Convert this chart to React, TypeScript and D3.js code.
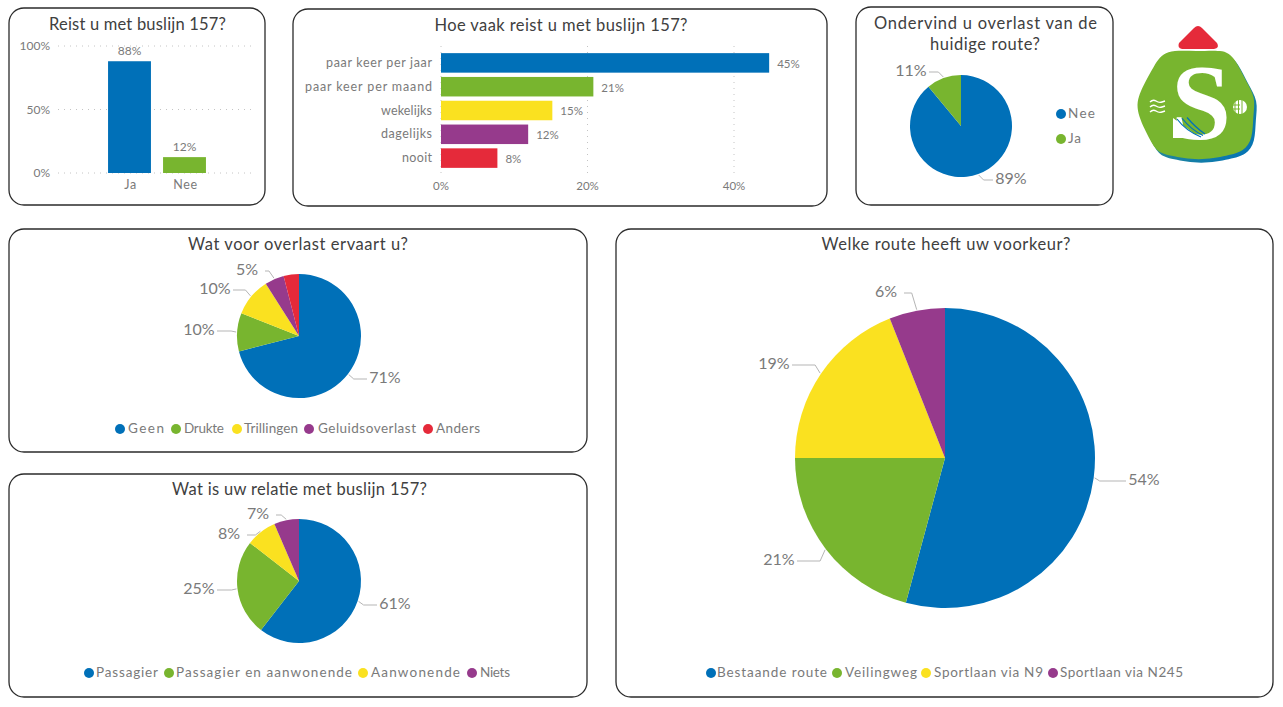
import React from "react";
import * as d3 from "d3";

const BLUE = "#0070B8", GREEN = "#78B52F", YELLOW = "#FAE120", PURPLE = "#963A8C", RED = "#E52A3A";
const FONT = "Lato, 'Open Sans', sans-serif";
const TITLE = "#404040", GREY = "#7a7a7a";

// --- data ---
const travelCats = ["Ja", "Nee"];
const travelVals = [88, 12.5];
const travelColors = [BLUE, GREEN];
const travelTicks = [0, 50, 100];

const freqCats = ["paar keer per jaar", "paar keer per maand", "wekelijks", "dagelijks", "nooit"];
const freqVals = [44.8, 20.8, 15.2, 11.9, 7.7];
const freqColors = [BLUE, GREEN, YELLOW, PURPLE, RED];
const freqTicks = [0, 20, 40];

const nuisanceYesNoCats = ["Nee", "Ja"];
const nuisanceYesNoVals = [89, 11];

const nuisanceCats = ["Geen", "Drukte", "Trillingen", "Geluidsoverlast", "Anders"];
const nuisanceVals = [71, 10, 10, 5, 4];

const relationCats = ["Passagier", "Passagier en aanwonende", "Aanwonende", "Niets"];
const relationVals = [60.5, 25, 8, 6.5];
const relationLabels = [61, 25, 8, 7];

const routeCats = ["Bestaande route", "Veilingweg", "Sportlaan via N9", "Sportlaan via N245"];
const routeVals = [54.2, 20.8, 19, 6];

const pieColors = [BLUE, GREEN, YELLOW, PURPLE, RED];

// --- layout ---
const freqLabelWidths = [106, 127, 51, 51, 30];
type Lab = { x: number; y: number } | null;
type LegendItem = { dot: number; text: number; w: number };

function Panel({ x0, y0, x1, y1 }: { x0: number; y0: number; x1: number; y1: number }) {
  return <rect x={x0} y={y0} width={x1 - x0} height={y1 - y0} rx={15} fill="#fff" stroke="#2b2b2b" strokeWidth={1.3} />;
}

function Title({ x, y, w, children, size = 16.5 }: any) {
  return (
    <text x={x} y={y} textAnchor="middle" fontSize={size} fill={TITLE} textLength={w} lengthAdjust="spacing" dominantBaseline="middle">
      {children}
    </text>
  );
}

function Pie({ cx, cy, r, vals, labels, labelPos, fontSize = 16 }: {
  cx: number; cy: number; r: number; vals: number[]; labels?: number[]; labelPos: Lab[]; fontSize?: number;
}) {
  const arcs = d3.pie<number>().sort(null)(vals);
  const arc = d3.arc<d3.PieArcDatum<number>>().innerRadius(0).outerRadius(r);
  const edge = d3.arc<d3.PieArcDatum<number>>().innerRadius(r + 1).outerRadius(r + 1);
  const leader = d3.line();
  return (
    <g>
      <g transform={`translate(${cx},${cy})`}>
        {arcs.map((a, i) => <path key={i} d={arc(a) as string} fill={pieColors[i]} />)}
      </g>
      {arcs.map((a, i) => {
        const p = labelPos[i];
        if (!p) return null;
        const [ex, ey] = edge.centroid(a);
        const X = cx + ex, Y = cy + ey;
        const side = p.x < cx ? 1 : -1;
        const end = p.x + side * 18;
        const elbow = X - side * 5;
        return (
          <g key={i}>
            <path d={leader([[X, Y], [elbow, p.y], [end, p.y]]) as string} fill="none" stroke="#b5b5b5" strokeWidth={1} />
            <text x={p.x} y={p.y} textAnchor="middle" dominantBaseline="middle" fontSize={fontSize} fill={GREY}>
              {Math.round(labels ? labels[i] : a.value)}%
            </text>
          </g>
        );
      })}
    </g>
  );
}

function Legend({ y, cats, items, size = 13.5 }: { y: number; cats: string[]; items: LegendItem[]; size?: number }) {
  return (
    <g>
      {cats.map((c, i) => (
        <g key={c}>
          <circle cx={items[i].dot} cy={y} r={5} fill={pieColors[i]} />
          <text x={items[i].text} y={y + 1} dominantBaseline="middle" fontSize={size} fill={GREY} textLength={items[i].w} lengthAdjust="spacing">{c}</text>
        </g>
      ))}
    </g>
  );
}

function TravelBars() {
  const y = d3.scaleLinear().domain([0, 100]).range([173, 46]);
  const x = d3.scaleBand<string>().domain(travelCats).range([102, 212]).paddingInner(0.22).paddingOuter(0.11);
  return (
    <g>
      {travelTicks.map(t => (
        <g key={t}>
          <line x1={58} x2={256} y1={y(t)} y2={y(t)} stroke="#c4c4c4" strokeWidth={1} strokeDasharray="1 5" />
          <text x={50} y={y(t) + 1} textAnchor="end" dominantBaseline="middle" fontSize={12} fill={GREY}>{t}%</text>
        </g>
      ))}
      {travelCats.map((c, i) => (
        <g key={c}>
          <rect x={x(c)} y={y(travelVals[i])} width={x.bandwidth()} height={y(0) - y(travelVals[i])} fill={travelColors[i]} />
          <text x={x(c)! + x.bandwidth() / 2} y={y(travelVals[i]) - 9} textAnchor="middle" dominantBaseline="middle" fontSize={12} fill={GREY}>
            {Math.floor(travelVals[i])}%
          </text>
          <text x={x(c)! + x.bandwidth() / 2 + 1} y={186} textAnchor="middle" dominantBaseline="middle" fontSize={12.5} fill={GREY} letterSpacing={0.6}>{c}</text>
        </g>
      ))}
    </g>
  );
}

function FreqBars() {
  const x = d3.scaleLinear().domain([0, 40]).range([441, 734]);
  const y = d3.scaleBand<string>().domain(freqCats).range([51, 170]).paddingInner(0.18).paddingOuter(0.09);
  return (
    <g>
      {freqTicks.map(t => (
        <g key={t}>
          <line x1={x(t)} x2={x(t)} y1={46} y2={176} stroke="#c4c4c4" strokeWidth={1} strokeDasharray="1 5" />
          <text x={x(t)} y={187} textAnchor="middle" dominantBaseline="middle" fontSize={11.5} fill={GREY}>{t}%</text>
        </g>
      ))}
      {freqCats.map((c, i) => (
        <g key={c}>
          <text x={432 - freqLabelWidths[i]} y={y(c)! + y.bandwidth() / 2 + 1} dominantBaseline="middle" fontSize={12.5} fill={GREY} textLength={freqLabelWidths[i]} lengthAdjust="spacing">{c}</text>
          <rect x={x(0)} y={y(c)} width={x(freqVals[i]) - x(0)} height={y.bandwidth()} fill={freqColors[i]} />
          <text x={x(freqVals[i]) + 8} y={y(c)! + y.bandwidth() / 2 + 2} dominantBaseline="middle" fontSize={11.5} fill={GREY}>{Math.round(freqVals[i])}%</text>
        </g>
      ))}
    </g>
  );
}

function Logo() {
  const ox = 1130, oy = 15, k = 1 / 3, mx = 195, my = 270, s = 1.12;
  const pts: [number, number][] = ([
    [115,120],[200,128],[275,120],[305,150],[330,205],[358,250],[350,300],[350,360],[325,395],[285,405],[205,420],[125,405],[90,395],[65,345],[32,275],[55,220],[85,165],
  ] as [number, number][]).map(([a, b]) => [ox + (mx + (a - mx) * s) * k, oy + (my + (b - my) * s) * k]);
  const blob = d3.line().curve(d3.curveBasisClosed)(pts) as string;
  const wave = (y: number) => `M1150 ${y} q3 -3 6 -1 t6 1 t3 -1`;
  return (
    <g>
      <defs>
        <linearGradient id="edge" x1="0" y1="0" x2="1" y2="1">
          <stop offset="0" stopColor="#4aa37a" />
          <stop offset="1" stopColor="#0070B8" />
        </linearGradient>
      </defs>
      <path d="M1179 43 Q1177 48 1182 49 L1214 49 Q1220 48 1217 43 L1202 28 Q1198 24 1194 28 Z" fill={RED} />
      <path d={blob} fill="url(#edge)" transform="translate(2.5,3.5)" />
      <path d={blob} fill={GREEN} />
      <text x={1201} y={139} textAnchor="middle" fontFamily="'Liberation Serif', serif" fontWeight={700} fontSize={108} fill="#fff">S</text>
      <path d="M1173 118 L1200 138 L1173 138 Z" fill="#fff" />
      {[0, 5, 10].map(d => (
        <path key={d} d={`M${1177 + d} ${119 - d * 0.15} Q${1186 + d} ${131 - d * 0.3} ${1201 + d * 0.4} ${137 - d * 0.3}`} fill="none" stroke={BLUE} strokeWidth={1.2} />
      ))}
      {[102, 107, 112].map(y => <path key={y} d={wave(y)} fill="none" stroke="#fff" strokeWidth={1.4} />)}
      <circle cx={1240} cy={107} r={7} fill="#fff" />
      {[1235, 1238.5, 1242].map(x => <line key={x} x1={x} x2={x} y1={100} y2={114} stroke={GREEN} strokeWidth={1} />)}
      {[105, 109].map(y => <line key={y} x1={1232} x2={1240} y1={y} y2={y} stroke={GREEN} strokeWidth={1} />)}
    </g>
  );
}

export default function App() {
  return (
    <svg width={1283} height={707} viewBox="0 0 1283 707" fontFamily={FONT}
      style={{ position: "absolute", left: 0, top: 0, background: "#fff" }}>
      <Panel x0={9} y0={8} x1={265} y1={205} />
      <Title x={137.5} y={26} w={177}>Reist u met buslijn 157?</Title>
      <TravelBars />

      <Panel x0={293} y0={9} x1={827} y1={206} />
      <Title x={561} y={27} w={253}>Hoe vaak reist u met buslijn 157?</Title>
      <FreqBars />

      <Panel x0={856} y0={7} x1={1113} y1={205} />
      <Title x={985.5} y={25} w={223}>Ondervind u overlast van de</Title>
      <Title x={985} y={46} w={110}>huidige route?</Title>
      <Pie cx={961} cy={126} r={51} vals={nuisanceYesNoVals} labelPos={[{ x: 1011, y: 180 }, { x: 911, y: 72 }]} />
      <Legend y={114} cats={[nuisanceYesNoCats[0]]} items={[{ dot: 1061, text: 1068, w: 27 }]} />
      <circle cx={1061} cy={139} r={5} fill={GREEN} />
      <text x={1068} y={140} dominantBaseline="middle" fontSize={13.5} fill={GREY} letterSpacing={0.75}>{nuisanceYesNoCats[1]}</text>

      <Logo />

      <Panel x0={9} y0={229} x1={587} y1={452} />
      <Title x={298} y={246} w={220}>Wat voor overlast ervaart u?</Title>
      <Pie cx={299} cy={336} r={62} vals={nuisanceVals}
        labelPos={[{ x: 385, y: 379 }, { x: 199, y: 331 }, { x: 215, y: 290 }, { x: 247, y: 271 }, null]} />
      <Legend y={429} cats={nuisanceCats} items={[
        { dot: 120, text: 128, w: 36 }, { dot: 176, text: 184, w: 40 }, { dot: 237, text: 244, w: 54 }, { dot: 309, text: 318, w: 98 }, { dot: 428, text: 436, w: 44 },
      ]} />

      <Panel x0={9} y0={474} x1={587} y1={697} />
      <Title x={299.5} y={491} w={255}>Wat is uw relatie met buslijn 157?</Title>
      <Pie cx={299} cy={581} r={62} vals={relationVals} labels={relationLabels}
        labelPos={[{ x: 395, y: 605 }, { x: 199, y: 590 }, { x: 229, y: 535 }, { x: 258, y: 515 }]} />
      <Legend y={673} cats={relationCats} items={[
        { dot: 89, text: 96, w: 62 }, { dot: 169, text: 176, w: 176 }, { dot: 363, text: 371, w: 89 }, { dot: 472, text: 480, w: 30 },
      ]} />

      <Panel x0={616} y0={229} x1={1273} y1={697} />
      <Title x={946} y={246} w={249}>Welke route heeft uw voorkeur?</Title>
      <Pie cx={945} cy={458} r={150} vals={routeVals}
        labelPos={[{ x: 1144, y: 481 }, { x: 779, y: 561 }, { x: 774, y: 365 }, { x: 886, y: 293 }]} />
      <Legend y={673} cats={routeCats} items={[
        { dot: 711, text: 717, w: 110 }, { dot: 837, text: 845, w: 72 }, { dot: 926, text: 934, w: 109 }, { dot: 1053, text: 1060, w: 123 },
      ]} />
    </svg>
  );
}
